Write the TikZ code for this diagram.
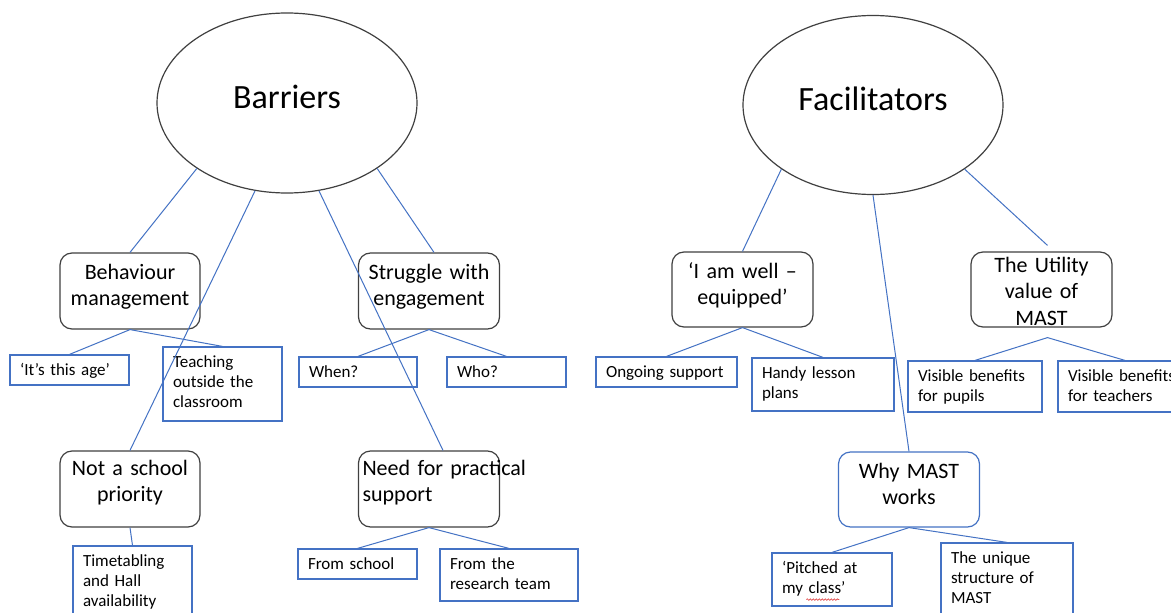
\documentclass[tikz,border=0pt]{standalone}
\usepackage{fontspec}
\setmainfont{Carlito}
\usetikzlibrary{shapes.geometric, decorations.pathmorphing}
\definecolor{linkblue}{RGB}{68,114,196}
\definecolor{boxgrey}{RGB}{64,64,64}
\definecolor{spellred}{RGB}{220,40,40}

\begin{document}
\begin{tikzpicture}[
  x=1pt, y=-1pt,
  theme/.style={ellipse, draw=boxgrey, line width=1.2pt,
              minimum width=260pt, minimum height=180pt, inner sep=0pt,
              text height=22pt, text depth=12pt,
              font=\fontsize{34}{40}\selectfont},
  topic/.style={rectangle, rounded corners=12pt, draw=boxgrey,
              line width=1.2pt, text width=133pt, inner xsep=4pt,
              inner ysep=0pt, align=center, text height=26pt,
              text depth=50pt, font=\fontsize{22}{26.5}\selectfont},
  leaf/.style={rectangle, draw=linkblue, line width=1.2pt,
              inner xsep=10pt, inner ysep=0pt, align=left,
              text height=20pt, text depth=10pt,
              font=\fontsize{17}{20}\selectfont},
  link/.style={draw=linkblue, line width=1pt}
]

% ── Page frame ──
\path[use as bounding box, fill=white] (0,0) rectangle (1171,613);
\clip (0,0) rectangle (1171,613);

% ── Barriers: theme and sub-themes ──
\node[theme] (barriers) at (287,103) {Barriers};

\node[topic, text width=132pt] (behav) at (130,291) {Behaviour\\management};
\node[topic] (struggle) at (429,291) {Struggle with\\engagement};
\node[topic, text width=132pt, text height=24pt, text depth=52pt]
  (notschool) at (130,489) {Not a school\\priority};
\node[topic, align=left, text height=24pt, text depth=52pt]
  (practical) at (429,489) {\mbox{Need for practical}\\support};

% ── Barriers: codes ──
\node[leaf, text width=99pt] (age) at (69.5,370) {‘It’s this age’};
\node[leaf, text width=99pt, text depth=54pt] (teach) at (222.5,384)
  {Teaching\\outside the\\classroom};
\node[leaf, text width=98pt] (when) at (358,372) {When?};
\node[leaf, text width=99pt] (who) at (506.5,372) {Who?};
\node[leaf, text width=99pt, text depth=49pt] (timetab) at (132.5,580.5)
  {Timetabling\\and Hall\\availability};
\node[leaf, text width=99pt] (fromschool) at (357.5,564) {From school};
\node[leaf, text width=118pt, text depth=32pt] (fromteam) at (509,575)
  {From the\\research team};

% ── Facilitators: theme and sub-themes ──
\node[theme, minimum height=179pt] (facil) at (873,105) {Facilitators};

\node[topic, text depth=49pt] (wellequip) at (742.5,289.5)
  {‘I am well –\\equipped’};
\node[topic, text height=20pt, text depth=55pt] (utility) at (1041.5,289.5)
  {The Utility\\value of\\MAST};
\node[topic, draw=linkblue, text depth=49pt] (whymast) at (909,489.5)
  {Why MAST\\works};

% ── Facilitators: codes ──
\node[leaf, text width=121pt] (ongoing) at (666.5,372) {Ongoing support};
\node[leaf, text width=122pt, text depth=33pt] (handy) at (823,384.5)
  {Handy lesson\\plans};
\node[leaf, text width=114pt, text depth=31pt] (pupils) at (975,386.5)
  {Visible benefits\\for pupils};
\node[leaf, text width=114pt, text depth=31pt] (teachers) at (1125,386.5)
  {Visible benefits\\for teachers};
\node[leaf, text width=100pt, text depth=33pt] (pitched) at (832,579.5)
  {‘Pitched at\\my class’};
\node[leaf, text width=112pt, text depth=52pt] (unique) at (1007,579)
  {The unique\\structure of\\MAST};

% spell-check squiggle under "class"
\draw[spellred, line width=0.6pt, decorate,
      decoration={snake, amplitude=0.8pt, segment length=3pt}]
  ([xshift=35pt, yshift=7pt]pitched.south west)
  -- ([xshift=68pt, yshift=7pt]pitched.south west);

% ── Links: themes to sub-themes ──
\draw[link] (barriers.216) -- (behav.north);
\draw[link] (barriers.250) -- (notschool.north);
\draw[link] (barriers.290) -- ([xshift=14pt]practical.north);
\draw[link] (barriers.324) -- ([xshift=5pt]struggle.north);

\draw[link] (facil.215) -- (wellequip.north);
\draw[link] (facil.270) -- (whymast.north);
\draw[link] (facil.325) -- ([xshift=6pt, yshift=6pt]utility.north);

% ── Links: sub-themes to codes ──
\coordinate (utilfork) at ([xshift=6pt, yshift=-10pt]utility.south);

\draw[link] (age.north) -- (behav.south) -- (teach.north);
\draw[link] (when.north) -- (struggle.south) -- (who.north);
\draw[link] (notschool.south) -- (timetab.north);
\draw[link] (fromschool.north) -- (practical.south) -- (fromteam.north);

\draw[link] (ongoing.north) -- (wellequip.south) -- (handy.north);
\draw[link] (pupils.north) -- (utilfork) -- (teachers.north);
\draw[link] (pitched.north) -- (whymast.south) -- (unique.north);

\end{tikzpicture}
\end{document}
